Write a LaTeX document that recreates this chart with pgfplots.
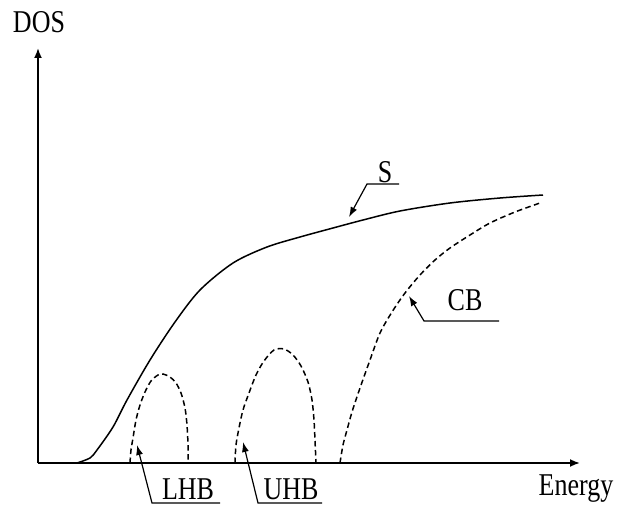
\documentclass[border=0pt]{standalone}
\usepackage{pgfplots}
\pgfplotsset{compat=1.18}
\usetikzlibrary{arrows.meta}
\usepackage{graphicx}
\usepackage{fontspec}
\setmainfont{Liberation Serif}
\newcommand{\lbl}[1]{\fontsize{26}{29}\selectfont\scalebox{1}[1.22]{#1}}
\begin{document}
\begin{tikzpicture}
\useasboundingbox (0,0) rectangle (622pt,508pt);
\begin{axis}[
  anchor=south west, at={(0,0)},
  scale only axis, width=622pt, height=508pt,
  xmin=0, xmax=622, ymin=0, ymax=508, y dir=reverse,
  hide axis, clip=false,
]
% axes
\draw[line width=1.8pt,-{Latex[length=10pt,width=8pt]}] (axis cs:38,463) -- (axis cs:580,463);
\draw[line width=1.8pt,-{Latex[length=10pt,width=8pt]}] (axis cs:38,463) -- (axis cs:38,48);
% S (solid)
\addplot[black, line width=1.5pt, smooth, tension=0.5] coordinates {
(77,463) (90,458) (97,450) (113,427) (127,400) (150,360) (175,322) (200,290)
(233,263) (267,247) (300,237) (333,228) (363,220) (400,211) (450,203) (500,198) (543,195)};
% LHB
\addplot[black, line width=1.5pt, dash pattern=on 5.5pt off 3.5pt, smooth, tension=0.5] coordinates {
(130,463) (131,450) (133,438) (136,420) (140,405) (145,392) (151,381) (158,375) (163,374)
(170,377) (176,383) (181,393) (185,408) (187,425) (188,445) (188,463)};
% UHB
\addplot[black, line width=1.5pt, dash pattern=on 5.5pt off 3.5pt, smooth, tension=0.5] coordinates {
(235,463) (236,445) (239,428) (243,410) (249,393) (256,375) (264,361) (274,350) (284,349)
(293,355) (301,366) (308,382) (312,400) (314,420) (315,440) (316,463)};
% CB
\addplot[black, line width=1.5pt, dash pattern=on 5.5pt off 3.5pt, smooth, tension=0.5] coordinates {
(340,463) (343,445) (347,430) (352,412) (360,388) (370,360) (380,333) (392,312) (405,293)
(420,275) (435,260) (450,248) (470,235) (490,223) (515,212) (540,203)};
% leader lines
\draw[line width=1.2pt,-{Latex[length=10pt,width=7pt]}] (axis cs:399,184) -- (axis cs:367,184) -- (axis cs:349,217);
\draw[line width=1.2pt,-{Latex[length=10pt,width=7pt]}] (axis cs:499,321) -- (axis cs:424,321) -- (axis cs:409,296);
\draw[line width=1.2pt,-{Latex[length=10pt,width=7pt]}] (axis cs:220,503) -- (axis cs:152,503) -- (axis cs:137,445);
\draw[line width=1.2pt,-{Latex[length=10pt,width=7pt]}] (axis cs:322,503) -- (axis cs:258,503) -- (axis cs:243,442);
% labels
\node at (axis cs:385,172) {\lbl{S}};
\node at (axis cs:465,300) {\lbl{CB}};
\node at (axis cs:188,489) {\lbl{LHB}};
\node at (axis cs:291,489) {\lbl{UHB}};
\node at (axis cs:39,22) {\lbl{DOS}};
\node at (axis cs:576,489) {\lbl{Energy}};
\end{axis}
\end{tikzpicture}
\end{document}
